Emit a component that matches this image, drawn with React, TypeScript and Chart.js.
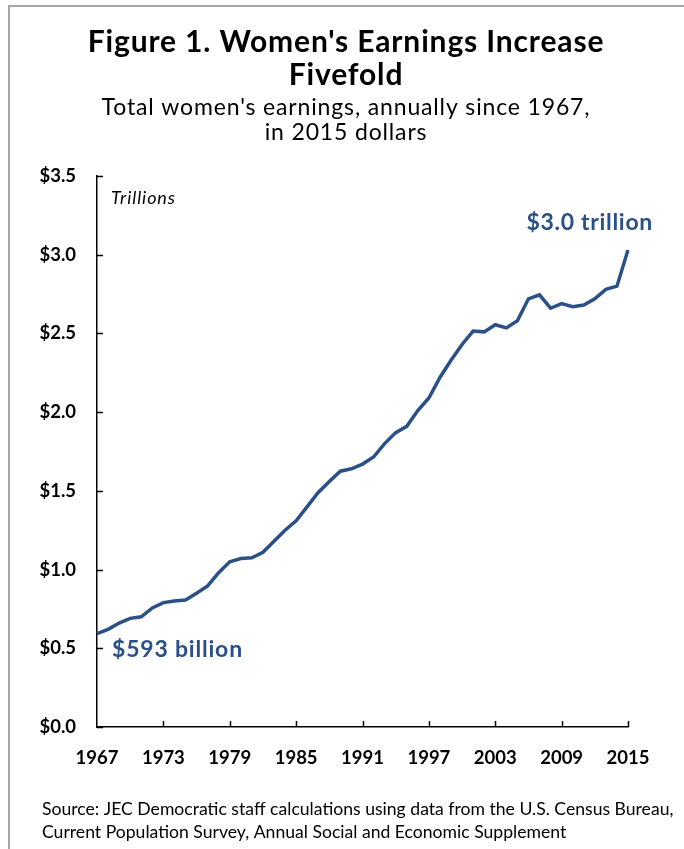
import React, { useEffect, useRef } from "react";
import { Chart, registerables } from "chart.js";

Chart.register(...registerables);

const YEARS = [
  1967, 1968, 1969, 1970, 1971, 1972, 1973, 1974, 1975, 1976,
  1977, 1978, 1979, 1980, 1981, 1982, 1983, 1984, 1985, 1986,
  1987, 1988, 1989, 1990, 1991, 1992, 1993, 1994, 1995, 1996,
  1997, 1998, 1999, 2000, 2001, 2002, 2003, 2004, 2005, 2006,
  2007, 2008, 2009, 2010, 2011, 2012, 2013, 2014, 2015,
];

// Total women's earnings, trillions of 2015 dollars
const EARNINGS = [
  0.593, 0.62, 0.66, 0.69, 0.7, 0.756, 0.79, 0.8, 0.807, 0.85,
  0.896, 0.98, 1.05, 1.07, 1.075, 1.11, 1.18, 1.25, 1.31, 1.4,
  1.49, 1.56, 1.625, 1.64, 1.67, 1.715, 1.8, 1.87, 1.91, 2.01,
  2.09, 2.22, 2.33, 2.43, 2.515, 2.51, 2.555, 2.535, 2.58, 2.72,
  2.745, 2.66, 2.69, 2.67, 2.68, 2.72, 2.78, 2.8, 3.03,
];

const Y_TICKS = [0, 0.5, 1.0, 1.5, 2.0, 2.5, 3.0, 3.5];
const X_TICK_YEARS = [1967, 1973, 1979, 1985, 1991, 1997, 2003, 2009, 2015];

const TITLE_LINES = ["Figure 1. Women's Earnings Increase", "Fivefold"];
const SUBTITLE_LINES = ["Total women's earnings, annually since 1967,", "in 2015 dollars"];
const UNIT_LABEL = "Trillions";
const START_LABEL = "$593 billion";
const END_LABEL = "$3.0 trillion";
const SOURCE_LINES = [
  "Source: JEC Democratic staff calculations using data from the U.S. Census Bureau,",
  "Current Population Survey, Annual Social and Economic Supplement",
];

const FONT = "Lato, 'Open Sans', sans-serif";
const LINE_COLOR = "#2B5088";

function drawText(ctx: any, text: string, x: number, y: number, font: string, spacing: number, align: string) {
  ctx.font = font;
  ctx.letterSpacing = spacing + "px";
  ctx.textAlign = "left";
  const w = ctx.measureText(text).width;
  let sx = x;
  if (align === "center") sx = x - w / 2;
  else if (align === "right") sx = x - w;
  ctx.fillText(text, sx, y);
  ctx.letterSpacing = "0px";
}

const decorPlugin = {
  id: "decor",
  beforeDraw(chart: any) {
    const ctx = chart.ctx;
    ctx.save();
    ctx.fillStyle = "#ffffff";
    ctx.fillRect(0, 0, chart.width, chart.height);
    ctx.strokeStyle = "#A6A6A6";
    ctx.lineWidth = 2;
    ctx.beginPath();
    ctx.moveTo(9, chart.height);
    ctx.lineTo(9, 6);
    ctx.lineTo(chart.width, 6);
    ctx.stroke();
    ctx.restore();
  },
  afterDraw(chart: any) {
    const ctx = chart.ctx;
    const xs = chart.scales.x;
    const ys = chart.scales.y;
    ctx.save();
    // inward tick marks
    ctx.strokeStyle = "#000";
    ctx.lineWidth = 1.5;
    ctx.beginPath();
    Y_TICKS.forEach((v) => {
      const py = Math.round(ys.getPixelForValue(v)) + 0.5;
      ctx.moveTo(xs.left, py);
      ctx.lineTo(xs.left + 6, py);
    });
    X_TICK_YEARS.forEach((yr) => {
      const idx = YEARS.indexOf(yr);
      if (idx <= 0) return;
      const px = Math.round(xs.getPixelForValue(idx)) + 0.5;
      ctx.moveTo(px, ys.bottom);
      ctx.lineTo(px, ys.bottom - 6);
    });
    ctx.stroke();

    const cx = 346;
    ctx.textBaseline = "alphabetic";
    ctx.fillStyle = "#000";
    drawText(ctx, TITLE_LINES[0], cx, 52, `bold 30px ${FONT}`, 0.85, "center");
    drawText(ctx, TITLE_LINES[1], cx, 85, `bold 30px ${FONT}`, 0.85, "center");
    drawText(ctx, SUBTITLE_LINES[0], cx, 115, `23px ${FONT}`, 0.85, "center");
    drawText(ctx, SUBTITLE_LINES[1], cx, 140, `23px ${FONT}`, 0.85, "center");

    drawText(ctx, UNIT_LABEL, 111, 204, `italic 18px ${FONT}`, 0.9, "left");

    ctx.fillStyle = LINE_COLOR;
    drawText(ctx, START_LABEL, 112, 657, `bold 23px ${FONT}`, 0.8, "left");
    drawText(ctx, END_LABEL, 653, 230, `bold 23px ${FONT}`, 0.7, "right");

    ctx.fillStyle = "#000";
    drawText(ctx, SOURCE_LINES[0], 42, 815, `17.6px ${FONT}`, 0, "left");
    drawText(ctx, SOURCE_LINES[1], 42, 838, `17.6px ${FONT}`, 0, "left");
    ctx.restore();
  },
};

export default function App() {
  const ref = useRef<HTMLCanvasElement | null>(null);
  useEffect(() => {
    if (!ref.current) return;
    const chart = new Chart(ref.current, {
      type: "line",
      data: {
        labels: YEARS.map(String),
        datasets: [
          {
            data: EARNINGS,
            borderColor: LINE_COLOR,
            borderWidth: 3.5,
            pointRadius: 0,
            tension: 0,
            fill: false,
          },
        ],
      },
      options: {
        animation: false,
        responsive: false,
        devicePixelRatio: 1,
        layout: { padding: { left: 0, right: 56, top: 176, bottom: 0 } },
        plugins: {
          legend: { display: false },
          tooltip: { enabled: false },
          title: { display: false },
        },
        scales: {
          x: {
            type: "category",
            offset: false,
            grid: { display: false, drawTicks: false },
            border: { display: true, color: "#000", width: 1.5 },
            ticks: {
              autoSkip: false,
              maxRotation: 0,
              minRotation: 0,
              padding: 20,
              color: "#000",
              font: { family: FONT, size: 18.5, weight: "bold" },
              callback: (_v: any, i: number) =>
                X_TICK_YEARS.includes(YEARS[i]) ? String(YEARS[i]) : "",
            },
            afterFit: (s: any) => {
              s.height = 122;
            },
          },
          y: {
            min: 0,
            max: 3.5,
            grid: { display: false, drawTicks: false },
            border: { display: true, color: "#000", width: 1.5 },
            afterBuildTicks: (s: any) => {
              s.ticks = Y_TICKS.map((v) => ({ value: v }));
            },
            ticks: {
              padding: 21,
              color: "#000",
              font: { family: FONT, size: 18.5, weight: "bold" },
              callback: (v: any) => "$" + Number(v).toFixed(1),
            },
            afterFit: (s: any) => {
              s.width = 97;
            },
          },
        },
      },
      plugins: [decorPlugin],
    } as any);
    return () => chart.destroy();
  }, []);
  return (
    <div style={{ position: "fixed", left: 0, top: 0, width: 684, height: 849, background: "#fff" }}>
      <canvas ref={ref} width={684} height={849} style={{ width: 684, height: 849, display: "block" }} />
    </div>
  );
}
